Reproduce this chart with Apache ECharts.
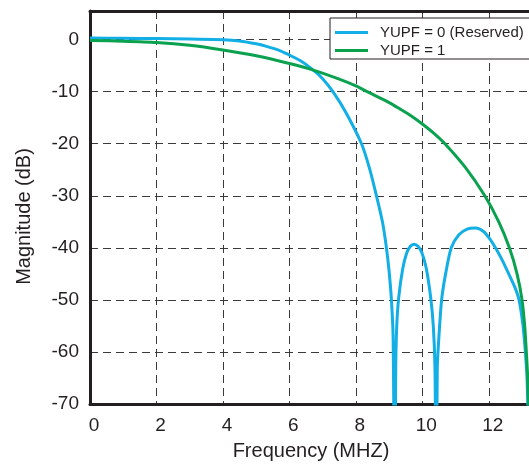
<!DOCTYPE html>
<html>
<head>
<meta charset="utf-8">
<script src="https://cdn.jsdelivr.net/npm/echarts@6/dist/echarts.min.js"></script>
<style>
  html, body { margin: 0; padding: 0; background: #fff; }
  #chart { width: 529px; height: 467px; }
</style>
</head>
<body>
<div id="chart"></div>
<script>
// YUPF = 0 (Reserved) response
var freqBlue = [0, 1, 2, 3, 4, 4.5, 5, 5.31, 5.71, 5.91, 6.32, 6.72, 7.0, 7.31, 7.7, 8.17, 8.4, 8.62, 8.8, 8.92, 9.0, 9.07, 9.12, 9.17,
  9.2, 9.23, 9.29, 9.41, 9.53, 9.64, 9.75, 9.87, 9.99, 10.12, 10.25, 10.33, 10.38, 10.42,
  10.45, 10.5, 10.58, 10.7, 10.87, 11.1, 11.35, 11.6, 11.85, 12.03, 12.2, 12.4, 12.6, 12.78, 12.91, 13.03, 13.1, 13.15, 13.18];
var magBlue = [0.3, 0.25, 0.2, 0.1, 0, -0.25, -0.8, -1.3, -2.1, -2.7, -4.0, -5.86, -7.5, -10, -14, -20, -24.5, -30, -35, -40, -44.5, -50, -57, -90,
  -63, -55, -49.5, -44, -41, -39.7, -39.3, -39.7, -41, -44, -49.5, -55, -63, -90,
  -63, -57, -50, -45, -40, -37.5, -36.4, -36.2, -36.9, -38.3, -40, -42.3, -45, -47.5, -50, -55, -60, -65, -72];

// YUPF = 1 response
var freqGreen = [0, 1, 2, 3, 4, 5, 6, 6.72, 7.5, 8, 8.37, 9, 9.32, 9.7, 10, 10.35, 10.68, 11.3, 11.88, 12.3, 12.62, 12.85, 13.0, 13.08, 13.13, 13.17, 13.2];
var magGreen = [-0.15, -0.3, -0.55, -1.1, -2.0, -3.1, -4.6, -5.86, -7.6, -8.9, -10.1, -12.1, -13.3, -14.8, -16.2, -18, -20, -24.6, -30, -35, -40, -45, -50, -55, -60, -65, -72];

var seriesNames = ['YUPF = 0 (Reserved)', 'YUPF = 1'];

function pairs(xs, ys) {
  var out = [];
  for (var i = 0; i < xs.length; i++) {
    out.push([xs[i], ys[i]]);
  }
  return out;
}

var chart = echarts.init(document.getElementById('chart'));
var font = 'Liberation Sans, Arial, Helvetica, sans-serif';
var ink = '#231f20';
var dashed = { show: true, lineStyle: { color: '#3a3a3a', width: 1, type: [8, 5] } };

chart.setOption({
  animation: false,
  grid: { left: 90, top: 11, right: -3, bottom: 63, outerBoundsMode: 'none' },
  legend: {
    orient: 'vertical',
    left: 330,
    top: 18,
    padding: [7, 30, 1, 5],
    itemGap: 3,
    itemWidth: 33,
    itemHeight: 3,
    icon: 'rect',
    backgroundColor: '#fff',
    borderColor: ink,
    borderWidth: 1,
    borderRadius: 0,
    textStyle: { fontFamily: font, fontSize: 15, color: ink, padding: [0, 0, 0, 7] },
    data: seriesNames
  },
  xAxis: [{
    type: 'value',
    min: 0,
    max: 13.3,
    interval: 2,
    name: 'Frequency (MHZ)',
    nameLocation: 'middle',
    nameGap: 37,
    nameTextStyle: { fontFamily: font, fontSize: 20, color: ink },
    axisLine: { show: true, onZero: false, lineStyle: { color: ink, width: 3 } },
    axisTick: { show: false },
    axisLabel: {
      fontFamily: font, fontSize: 19, color: ink, margin: 12, padding: [0, 0, 0, 8],
      formatter: function (v) { return v % 2 === 0 ? String(v) : ''; }
    },
    splitLine: dashed
  }, {
    type: 'value',
    position: 'top',
    min: 0,
    max: 13.3,
    axisLine: { show: true, onZero: false, lineStyle: { color: ink, width: 3 } },
    axisTick: { show: false },
    axisLabel: { show: false },
    splitLine: { show: false }
  }],
  yAxis: {
    type: 'value',
    min: -70,
    max: 5.5,
    interval: 10,
    name: 'Magnitude (dB)',
    nameLocation: 'middle',
    nameGap: 56,
    nameTextStyle: { fontFamily: font, fontSize: 20, color: ink, padding: [0, 18, 0, 0] },
    axisLine: { show: true, onZero: false, lineStyle: { color: ink, width: 3 } },
    axisTick: { show: false },
    axisLabel: {
      fontFamily: font, fontSize: 19, color: ink, margin: 11,
      formatter: function (v) { return v % 10 === 0 ? String(v) : ''; }
    },
    splitLine: dashed
  },
  series: [{
    name: seriesNames[0],
    type: 'line',
    symbol: 'none',
    smooth: 0.25,
    clip: true,
    lineStyle: { color: '#12aee6', width: 3 },
    itemStyle: { color: '#12aee6' },
    data: pairs(freqBlue, magBlue)
  }, {
    name: seriesNames[1],
    type: 'line',
    symbol: 'none',
    smooth: 0.25,
    clip: true,
    lineStyle: { color: '#0aa14f', width: 3 },
    itemStyle: { color: '#0aa14f' },
    data: pairs(freqGreen, magGreen)
  }]
});
</script>
</body>
</html>
